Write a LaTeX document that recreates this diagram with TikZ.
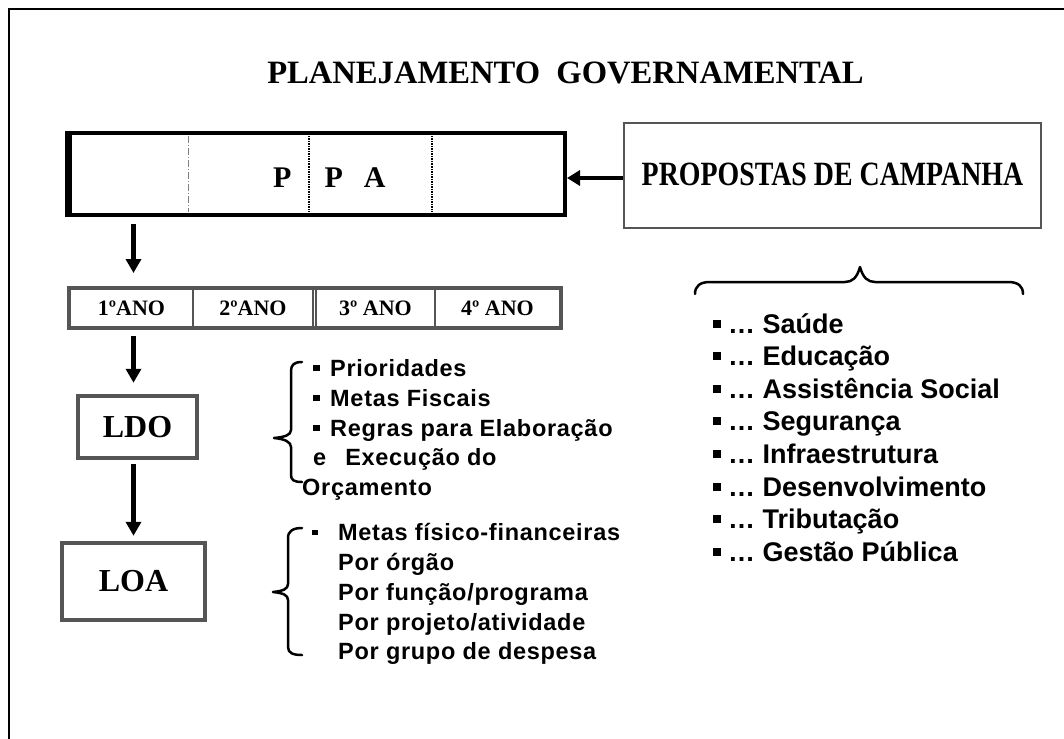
\documentclass[tikz,border=0pt]{standalone}
\usepackage{fontspec}
\setmainfont{Liberation Serif}
\setsansfont{Liberation Sans}
\usetikzlibrary{arrows.meta}
\definecolor{boxgray}{HTML}{555555}
\newcommand\mybul[1]{\rule[0.2em]{#1}{#1}}
\begin{document}
\begin{tikzpicture}[x=1pt,y=-1pt,
  serifb/.style={font=\fontsize{#1}{#1}\selectfont\bfseries, inner sep=0pt},
  sansb/.style={font=\sffamily\bfseries\fontsize{#1}{#1}\selectfont, inner sep=0pt},
  sansl/.style={font=\sffamily\bfseries\fontsize{#1}{#1}\selectfont\addfontfeatures{LetterSpace=3}, inner sep=0pt, anchor=base west},
  bigarrow/.style={-{Triangle[width=15pt,length=14pt]}, line width=5pt},
  gbox/.style={draw=boxgray, line width=4.5pt, fill=white, inner sep=0pt, font=\fontsize{32}{32}\selectfont\bfseries},
  yearcell/.style={draw=boxgray, line width=2pt, minimum height=38pt, inner sep=0pt, font=\fontsize{22}{22}\selectfont\bfseries},
  brace/.style={line width=2.5pt, line cap=round, line join=round}
]
\useasboundingbox (0,0) rectangle (1064,738);
\draw[line width=1.5pt] (9,740) -- (9,9) -- (1066,9);

\node[serifb=32.6] (title) at (565.5,73) {PLANEJAMENTO\ \ GOVERNAMENTAL};

% PPA
\node[draw, line width=4pt, minimum width=495pt, minimum height=82pt, inner sep=0pt] (ppa) at (317.5,174) {};
\draw[line width=6pt] (ppa.north west) -- (ppa.south west);
\draw[gray, line width=1pt, dash pattern=on 7pt off 2pt on 1pt off 2pt] (188,136) -- (188,212);
\draw[black, line width=2.2pt, dash pattern=on 1.5pt off 1pt] (309,136) -- (309,212);
\draw[black, line width=2.2pt, dash pattern=on 1.5pt off 1pt] (432,136) -- (432,212);
\node[serifb=30, anchor=west] (ppat) at (273,178) {P\hspace{33pt}P\hspace{21pt}A};

% Propostas
\node[draw=boxgray, line width=2pt, minimum width=417pt, minimum height=105pt, inner sep=0pt, font=\fontsize{34}{34}\selectfont\bfseries] (prop) at (832.5,175.5) {\raisebox{2pt}{\scalebox{0.82}[1]{PROPOSTAS DE CAMPANHA}}};
\draw[-{Triangle[width=15pt,length=13pt]}, line width=4pt] (prop.west |- ppat) -- (ppa.east |- ppat);

% Years
\node[yearcell, minimum width=123pt] (y1) at (131.5,308) {1ºANO};
\node[yearcell, minimum width=120pt] (y2) at (253,308) {2ºANO};
\node[yearcell, minimum width=119pt] (y3) at (375.5,308) {3º ANO};
\node[yearcell, minimum width=125pt] (y4) at (497.5,308) {4º ANO};
\draw[boxgray, line width=4pt] (y1.north west) rectangle (y4.south east);

% LDO / LOA
\node[gbox, minimum width=119pt, minimum height=62pt] (ldo) at (137.5,427) {LDO};
\node[gbox, minimum width=143pt, minimum height=77pt] (loa) at (133.5,581.5) {LOA};

\draw[bigarrow, shorten <=7pt, shorten >=15pt] (ppa.south -| loa.north) -- (y1.north -| loa.north);
\draw[bigarrow, shorten <=8pt, shorten >=11pt] (y1.south -| loa.north) -- (ldo.north -| loa.north);
\draw[bigarrow, shorten <=4pt, shorten >=5pt] (ldo.south -| loa.north) -- (loa.north);

% braces
\draw[brace] (302,362) .. controls (294,362) and (291,365) .. (291,371) -- (291,430) .. controls (291,435) and (285,437) .. (274,438) .. controls (285,439) and (291,442) .. (291,447) -- (291,475) .. controls (291,480) and (294,482) .. (302,482);
\draw[brace] (302,528) .. controls (293,528) and (288,531) .. (288,538) -- (288,584) .. controls (288,589) and (283,591) .. (273,592) .. controls (283,593) and (288,595) .. (288,600) -- (288,647) .. controls (288,653) and (293,655) .. (302,655);
\draw[brace] (695,294) .. controls (695,286) and (700,282) .. (710,282) -- (845,282) .. controls (852,282) and (857,278) .. (860,267) .. controls (863,278) and (868,282) .. (875,282) -- (1008,282) .. controls (1018,282) and (1023,286) .. (1023,294);

% LDO list
\node[sansl=23.5] (d1) at (313,376) {\makebox[17pt][l]{\mybul{6.5pt}}Prioridades};
\node[sansl=23.5] (d2) at (313,406) {\makebox[17pt][l]{\mybul{6.5pt}}Metas Fiscais};
\node[sansl=23.5] (d3) at (313,436) {\makebox[17pt][l]{\mybul{6.5pt}}Regras para Elaboração};
\node[sansl=23.5] (d4) at (313,465) {e\hspace{19pt}Execução do};
\node[sansl=23.5] (d5) at (302,495) {Orçamento};

% LOA list
\node[sansl=23.5] (o1) at (312,540) {\makebox[26pt][l]{\mybul{5.5pt}}Metas físico-financeiras};
\node[sansl=23.5] (o2) at (338,570) {Por órgão};
\node[sansl=23.5] (o3) at (338,600) {Por função/programa};
\node[sansl=23.5] (o4) at (338,630) {Por projeto/atividade};
\node[sansl=23.5] (o5) at (338,659) {Por grupo de despesa};

% right list
\foreach \t [count=\i] in {Saúde, Educação, Assistência Social, Segurança, Infraestrutura, Desenvolvimento, Tributação, Gestão Pública}
  \node[sansb=27, anchor=base west] (r\i) at (713,{333+32.6*(\i-1)}) {\makebox[15pt][l]{\mybul{8pt}}…\ \t};
\end{tikzpicture}
\end{document}
